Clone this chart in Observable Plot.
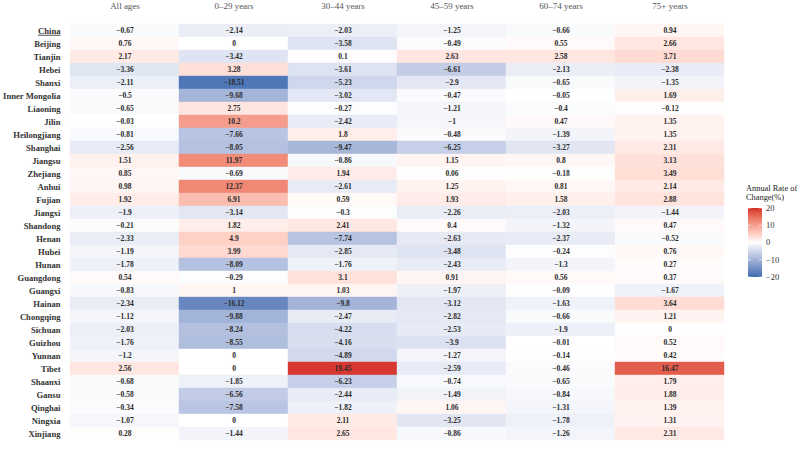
<!DOCTYPE html>
<html><head><meta charset="utf-8">
<script src="https://cdn.jsdelivr.net/npm/d3@7"></script>
<script src="https://cdn.jsdelivr.net/npm/@observablehq/plot@0.6"></script>
<style>body{margin:0;background:#fff;} svg{display:block;}</style>
</head><body><div id="chart"></div>
<script>
const regions = ["China","Beijing","Tianjin","Hebei","Shanxi","Inner Mongolia","Liaoning","Jilin","Heilongjiang","Shanghai","Jiangsu","Zhejiang","Anhui","Fujian","Jiangxi","Shandong","Henan","Hubei","Hunan","Guangdong","Guangxi","Hainan","Chongqing","Sichuan","Guizhou","Yunnan","Tibet","Shaanxi","Gansu","Qinghai","Ningxia","Xinjiang"];
const ageGroups = ["All ages","0\u201329 years","30\u201344 years","45\u201359 years","60\u201374 years","75+ years"];
const allAges = [-0.67,0.76,2.17,-3.36,-2.11,-0.5,-0.65,-0.03,-0.81,-2.56,1.51,0.85,0.98,1.92,-1.9,-0.21,-2.33,-1.19,-1.78,0.54,-0.83,-2.34,-1.12,-2.03,-1.76,-1.2,2.56,-0.68,-0.58,-0.34,-1.07,0.28];
const age0to29 = [-2.14,0,-3.42,3.28,-18.51,-9.68,2.75,10.2,-7.66,-8.05,11.97,-0.69,12.37,6.91,-3.14,1.82,4.9,3.99,-8.09,-0.29,1,-16.12,-9.88,-8.24,-8.55,0,0,-1.85,-6.56,-7.58,0,-1.44];
const age30to44 = [-2.03,-3.58,0.1,-3.61,-5.23,-3.02,-0.27,-2.42,1.8,-9.47,-0.86,1.94,-2.61,0.59,-0.3,2.41,-7.74,-2.85,-1.76,3.1,1.03,-9.8,-2.47,-4.22,-4.16,-4.89,19.45,-6.23,-2.44,-1.82,2.11,2.65];
const age45to59 = [-1.25,-0.49,2.63,-6.61,-2.9,-0.47,-1.21,-1,-0.48,-6.25,1.15,0.06,1.25,1.93,-2.26,0.4,-2.63,-3.48,-2.43,0.91,-1.97,-3.12,-2.82,-2.53,-3.9,-1.27,-2.59,-0.74,-1.49,1.06,-3.25,-0.86];
const age60to74 = [-0.66,0.55,2.58,-2.13,-0.65,-0.05,-0.4,0.47,-1.39,-3.27,0.8,-0.18,0.81,1.58,-2.03,-1.32,-2.37,-0.24,-1.3,0.56,-0.09,-1.63,-0.66,-1.9,-0.01,-0.14,-0.46,-0.65,-0.84,-1.31,-1.78,-1.26];
const age75plus = [0.94,2.66,3.71,-2.38,-1.35,1.69,-0.12,1.35,1.35,2.31,3.13,3.49,2.14,2.88,-1.44,0.47,-0.52,0.76,0.27,0.37,-1.67,3.64,1.21,0,0.52,0.42,16.47,1.79,1.88,1.39,1.31,2.31];
const legendTicks = [20,10,0,-10,-20];

const columns = [allAges, age0to29, age30to44, age45to59, age60to74, age75plus];
const data = [];
regions.forEach((r, i) => columns.forEach((col, j) => data.push({region: r, age: ageGroups[j], value: col[i]})));
const fmt = v => (v < 0 ? "\u2212" : "") + String(Math.abs(v));

const font = "'Liberation Serif', 'DejaVu Serif', serif";
const plot = Plot.plot({
  width: 800, height: 454,
  marginLeft: 67, marginRight: 74, marginTop: 12.5, marginBottom: 2.5,
  style: {fontFamily: font, background: "white", overflow: "visible"},
  x: {domain: ageGroups, padding: 0, axis: null},
  y: {domain: regions, padding: 0, axis: null},
  color: {type: "linear", domain: [-20, 0, 20], range: ["#3d6db1", "#ffffff", "#d5302a"], interpolate: "lab", clamp: true},
  marks: [
    Plot.cell(data, {x: "age", y: "region", fill: "value", stroke: "value", strokeWidth: 0.4}),
    Plot.text(data, {x: "age", y: "region", text: d => fmt(d.value), fontSize: 7.5, fontWeight: "bold", fill: "#2a2a2a"}),
    Plot.axisX({anchor: "top", tickSize: 0, tickPadding: 4, fontSize: 9, fill: "#555", label: null}),
    Plot.axisY({anchor: "left", tickSize: 0, tickPadding: 7, fontSize: 8.6, fontWeight: "bold", fill: "#333", label: null})
  ]
});

const svg = d3.select(plot);
svg.selectAll("text").filter(function(){ return this.textContent === "China"; })
  .style("text-decoration", "underline");

// legend
const color = plot.scale("color");
const ly = d3.scaleLinear([-20, 20], [277, 208]);
const defs = svg.append("defs");
const grad = defs.append("linearGradient").attr("id", "lg").attr("x1", 0).attr("y1", 1).attr("x2", 0).attr("y2", 0);
d3.ticks(-20, 20, 40).forEach(v => grad.append("stop").attr("offset", (v + 20) / 40).attr("stop-color", color.apply(v)));
const lg = svg.append("g").attr("font-family", font).attr("text-anchor", "start");
lg.append("text").attr("x", 746).attr("y", 191).attr("font-size", 8.4).attr("fill", "#222").text("Annual Rate of");
lg.append("text").attr("x", 746).attr("y", 200).attr("font-size", 8.4).attr("fill", "#222").text("Change(%)");
lg.append("rect").attr("x", 748).attr("y", 208).attr("width", 14).attr("height", 69).attr("fill", "url(#lg)");
lg.selectAll(".tk").data(legendTicks).join("text")
  .attr("x", 766).attr("y", d => ly(d)).attr("dy", "0.35em").attr("font-size", 8.5).attr("fill", "#333")
  .text(d => fmt(d));
lg.selectAll(".tl").data(legendTicks).join("line")
  .attr("x1", 748).attr("x2", 751).attr("y1", d => ly(d)).attr("y2", d => ly(d)).attr("stroke", "white").attr("stroke-width", 0.6);
lg.selectAll(".tr").data(legendTicks).join("line")
  .attr("x1", 759).attr("x2", 762).attr("y1", d => ly(d)).attr("y2", d => ly(d)).attr("stroke", "white").attr("stroke-width", 0.6);

document.getElementById("chart").append(plot);
</script>
</body></html>
